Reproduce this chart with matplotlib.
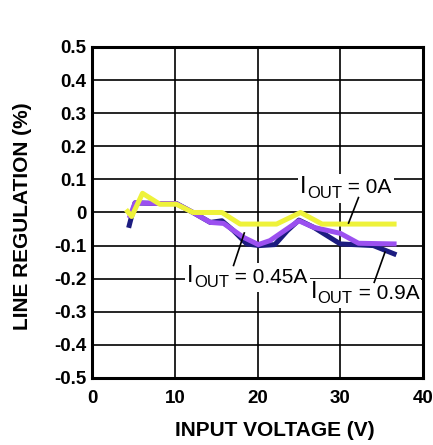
import matplotlib
matplotlib.use("Agg")
import matplotlib.pyplot as plt
from matplotlib.patches import Rectangle
from matplotlib.transforms import Bbox, IdentityTransform

plt.rcParams['font.family'] = 'Liberation Sans'

# IOUT = 0A
v_0a = [4.3, 4.8, 6.1, 8.2, 10.2, 12.2, 15.7, 17.9, 22.3, 25.2, 27.8, 36.5]
reg_0a = [0.003, -0.012, 0.058, 0.025, 0.025, 0.0, 0.0, -0.035, -0.035, 0.0, -0.035, -0.035]

# IOUT = 0.45A
v_045 = [4.6, 5.2, 8.2, 10.2, 12.2, 14.3, 15.9, 18.3, 20.1, 21.5, 25.0, 26.8, 30.0, 32.2, 36.5]
reg_045 = [-0.01, 0.029, 0.027, 0.027, 0.0, -0.030, -0.033, -0.075, -0.097, -0.085, -0.025, -0.045, -0.063, -0.093, -0.095]

# IOUT = 0.9A
v_09 = [4.5, 5.2, 8.2, 10.2, 12.2, 14.3, 15.7, 17.1, 18.7, 20.2, 22.1, 23.6, 25.0, 26.8, 30.0, 34.0, 36.5]
reg_09 = [-0.039, 0.029, 0.027, 0.027, 0.0, -0.030, -0.025, -0.055, -0.095, -0.100, -0.097, -0.055, -0.023, -0.045, -0.095, -0.100, -0.125]

fig = plt.figure(figsize=(4.33, 4.45), dpi=100)
ax = fig.add_axes([0.2125, 0.1506, 0.7645, 0.7438])

ax.plot(v_09, reg_09, color='#1c1c80', linewidth=3.6, zorder=3)
ax.plot(v_045, reg_045, color='#9b50f0', linewidth=3.6, zorder=4)
ax.plot(v_0a, reg_0a, color='#eef23a', linewidth=3.6, zorder=5)

ax.set_xlim(0, 40)
ax.set_ylim(-0.5, 0.5)
ax.set_xticks([0, 10, 20, 30, 40])
ax.set_yticks([-0.5, -0.4, -0.3, -0.2, -0.1, 0, 0.1, 0.2, 0.3, 0.4, 0.5])
ax.set_yticklabels(['-0.5', '-0.4', '-0.3', '-0.2', '-0.1', '0', '0.1', '0.2', '0.3', '0.4', '0.5'])
ax.tick_params(length=0, labelsize=13.5, pad=4)
for lab in ax.get_xticklabels() + ax.get_yticklabels():
    lab.set_fontweight('bold')
ax.tick_params(axis='x', pad=9)
ax.grid(True, color='black', linewidth=1.2, zorder=1)
for s in ax.spines.values():
    s.set_linewidth(2.2)

ax.set_xlabel('INPUT VOLTAGE (V)', fontsize=15, fontweight='bold')
ax.xaxis.set_label_coords(0.553, -0.13)
ax.set_ylabel('LINE REGULATION (%)', fontsize=15, fontweight='bold')
ax.yaxis.set_label_coords(-0.181, 0.49)


def iout_label(x, y, rest):
    t1 = ax.text(x, y, 'I', fontsize=17, va='bottom', zorder=7)
    t2 = ax.annotate('OUT', xy=(1, 0), xycoords=t1, xytext=(0.5, -2.5),
                     textcoords='offset points', fontsize=12, va='bottom', zorder=7)
    t3 = ax.annotate(rest, xy=(1, 0), xycoords=t2, xytext=(0, 2.6),
                     textcoords='offset points', fontsize=15, va='bottom', zorder=7)
    return [t1, t2, t3]


labels = []
labels.append(iout_label(25.14, 0.045, ' = 0A'))
ax.plot([32.2, 31.0], [0.045, -0.032], color='black', linewidth=1.2, zorder=8)
labels.append(iout_label(11.5, -0.225, ' = 0.45A'))
ax.plot([17.1, 18.4], [-0.160, -0.062], color='black', linewidth=1.2, zorder=8)
labels.append(iout_label(26.4, -0.273, ' = 0.9A'))
ax.plot([34.1, 35.4], [-0.211, -0.120], color='black', linewidth=1.2, zorder=8)

# white backdrop behind each label group, hiding the grid
fig.canvas.draw()
renderer = fig.canvas.get_renderer()
for group in labels:
    bb = Bbox.union([t.get_window_extent(renderer) for t in group])
    bb = bb.padded(2)
    ax.add_patch(Rectangle((bb.x0, bb.y0), bb.width, bb.height,
                           transform=IdentityTransform(), facecolor='white',
                           edgecolor='none', zorder=6))

fig.savefig('out.png', dpi=100)
